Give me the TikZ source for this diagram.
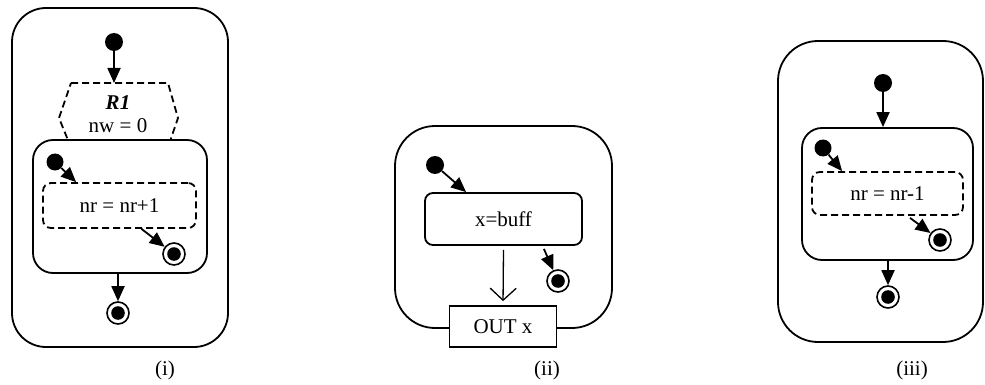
\documentclass[tikz,border=0pt]{standalone}
\usepackage{fontspec}
\setmainfont{Liberation Serif}
\usetikzlibrary{arrows.meta,calc}
\begin{document}
\begin{tikzpicture}[x=1pt,y=-1pt,
  every node/.style={font=\fontsize{21}{24}\selectfont},
  composite/.style={draw, line width=1.8pt, rounded corners=#1, fill=white, inner sep=0pt},
  initst/.style={circle, fill=black, minimum size=#1, inner sep=0pt},
  finalst/.style={circle, draw, line width=1.6pt, minimum size=22pt, inner sep=0pt,
    path picture={\fill (path picture bounding box.center) circle (6.8pt);}},
  actdash/.style={draw, line width=1.8pt, dash pattern=on 7pt off 4pt, rounded corners=8pt, inner sep=0pt},
  actsolid/.style={draw, line width=1.8pt, rounded corners=8pt, fill=white, inner sep=0pt},
  trans/.style={line width=1.8pt, -{Triangle[length=15pt,width=13pt]}},
  flow/.style={line width=1.3pt, -{Straight Barb[length=12pt,width=26pt,line width=1.3pt]}},
  caption/.style={inner sep=0pt}]
\fill[white] (0,0) rectangle (985,385);
\useasboundingbox (0,0) rectangle (985,385);

% ---------- (i) ----------
\node[composite=34pt, minimum width=216pt, minimum height=339pt] (outer1) at (120,177.5) {};
\node[initst=18pt] (init1) at (114,42) {};
\draw[line width=1.8pt, dash pattern=on 7pt off 4pt]
  (71,83) -- (168,83) -- (178,118) -- (167,150) -- (72,150) -- (59,118) -- cycle;
\coordinate (reg1) at (114,83);
\node[inner sep=0pt] (r1name) at (118,103) {\textbf{\textit{R1}}};
\node[inner sep=0pt] (r1inv) at (118,126) {nw = 0};
\node[composite=20pt, minimum width=174pt, minimum height=133pt] (inner1) at (120,206.5) {};
\node[initst=17pt] (init1b) at (55,162) {};
\node[actdash, minimum width=153pt, minimum height=45pt] (act1) at (119.5,205.5) {nr = nr+1};
\node[finalst] (final1b) at (174,254) {};
\node[finalst] (final1) at (118,313) {};
\draw[trans] (init1) -- (reg1);
\draw[trans] (init1b) -- ($(act1.north west)+(34,0)$);
\draw[trans] ($(act1.south)+(22,0)$) -- (final1b);
\draw[trans] (inner1.south -| final1) -- (final1);
\node[caption] (cap1) at (165,370) {(i)};

% ---------- (ii) ----------
\node[composite=40pt, minimum width=217pt, minimum height=202pt] (outer2) at (503.5,227) {};
\node[initst=18pt] (init2) at (435,165) {};
\node[actsolid, minimum width=157pt, minimum height=52pt] (act2) at (503.5,219) {x=buff};
\node[finalst] (final2) at (558,281) {};
\node[draw, line width=1.8pt, fill=white, minimum width=107pt, minimum height=41pt, inner sep=0pt] (out2) at (503,326.5) {OUT x};
\draw[trans] (init2) -- ($(act2.north west)+(42,0)$);
\draw[trans] ($(act2.south east)+(-39,3)$) -- (final2);
\draw[flow, shorten >=4pt] ($(act2.south)+(0,4)$) -- (out2.north);
\node[caption] (cap2) at (547,370) {(ii)};

% ---------- (iii) ----------
\node[composite=40pt, minimum width=205pt, minimum height=301pt] (outer3) at (880.5,191.5) {};
\node[initst=18pt] (init3) at (883,83) {};
\node[composite=20pt, minimum width=171pt, minimum height=132pt] (inner3) at (887.5,194) {};
\node[initst=17pt] (init3b) at (823,148) {};
\node[actdash, minimum width=151pt, minimum height=43pt] (act3) at (887.5,193.5) {nr = nr-1};
\node[finalst] (final3b) at (940,240) {};
\node[finalst] (final3) at (888,297) {};
\draw[trans] (init3) -- (inner3.north -| init3);
\draw[trans] (init3b) -- ($(act3.north west)+(31,0)$);
\draw[trans] ($(act3.south)+(22.5,2)$) -- (final3b);
\draw[trans] (inner3.south -| final3) -- (final3);
\node[caption] (cap3) at (912,370) {(iii)};
\end{tikzpicture}
\end{document}
